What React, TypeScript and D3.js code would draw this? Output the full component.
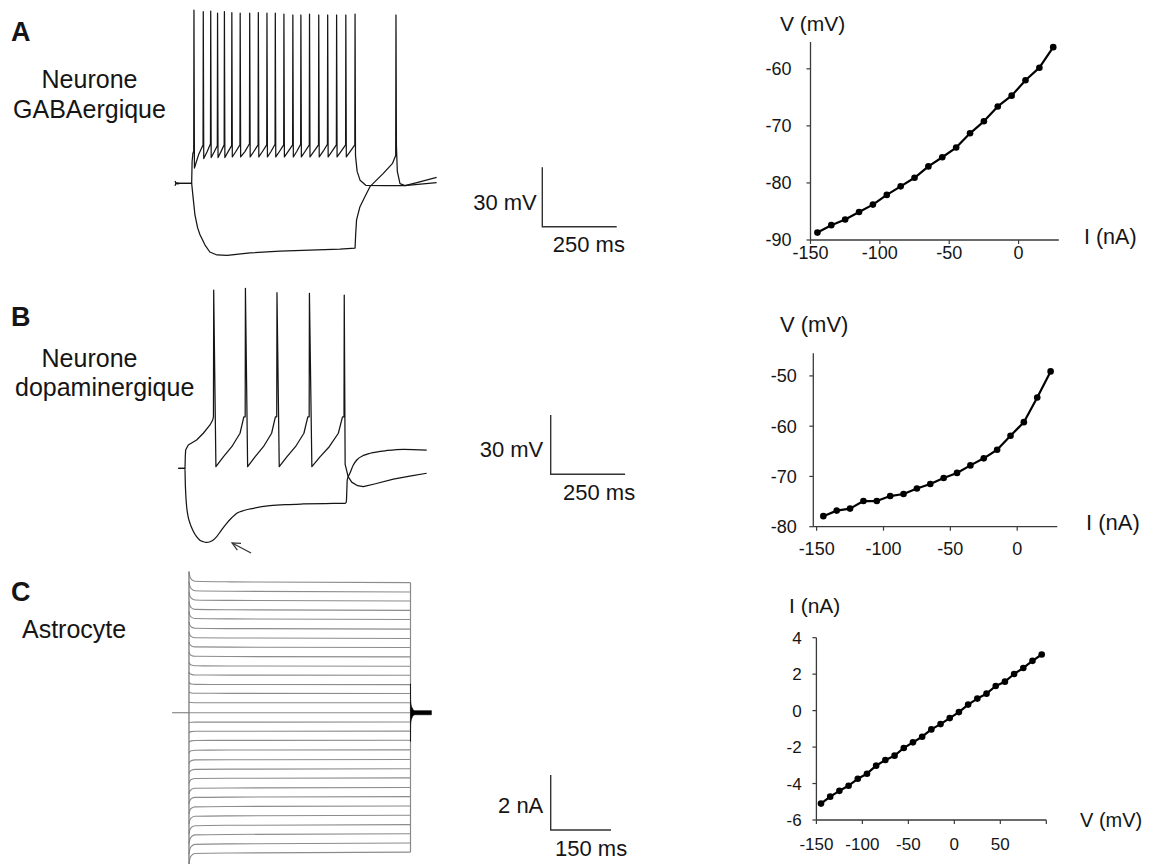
import React from "react";
import * as d3 from "d3";

const FONT = "'Liberation Sans', Arial, Helvetica, sans-serif";
const INK = "#151515";
type Pt = [number, number];

// ================= Panel A : GABAergic neuron (ms, mV) =================
const traceA_pre: Pt[] = [[-56, -62.8], [-52, -64.2], [-47, -63.8], [-40, -64], [0, -64], [1.5, -53], [4, -49], [5.5, -48.5]];
const spikeTimesA = [7.7, 39, 64, 87, 110, 135, 163, 195, 224, 253, 281, 310, 340, 367, 396, 427, 457, 487, 518, 549];
const spikePeaksA = [23.5, 22.7, 23.0, 21.9, 22.7, 22.2, 21.9, 21.9, 22.2, 21.9, 21.9, 21.5, 21.0, 21.0, 21.5, 21.0, 21.0, 21.0, 21.0, 21.5];
const spikeThrA = [-47.5, -44.6, -44.0, -45.0, -44.6, -45.0, -44.6, -44.0, -44.6, -44.6, -44.3, -44.6, -44.6, -44.3, -44.6, -44.6, -44.3, -44.6, -44.6, -44.6];
const spikeAhpA = [-56.3, -51.5, -51.0, -51.0, -51.0, -50.7, -50.7, -50.7, -50.7, -50.7, -50.7, -50.7, -50.7, -50.7, -50.7, -50.7, -50.7, -50.7, -50.7];
const spikeMidA = [-49.5, -48.2, -48.2, -48.0, -48.0, -47.8, -48.0, -47.8, -47.8, -47.8, -47.8, -47.8, -47.8, -47.8, -47.8, -47.8, -47.8, -47.8, -47.8];
const traceA_post: Pt[] = [[550.5, -50], [556, -58], [566, -62.5], [585, -65], [650, -65.2], [716, -65.2], [760, -64.5], [823, -63.6]];
const traceA_hyper: Pt[] = [
  [-56, -65.2], [-52, -63.8], [-47, -64.3], [-40, -64], [0, -64], [4, -70], [11, -80], [20, -86.5], [28, -90], [45, -95.2],
  [61, -98.7], [85, -100.2], [119, -100.4], [196, -99.2], [297, -98.2], [397, -97.7], [498, -97.2], [549, -96.7],
  [551, -90], [554, -82.5], [565.5, -75.8], [582, -70.8], [599, -65.7], [644, -59], [675, -53.9], [685.5, -50],
  [686.5, 21], [688, -45], [691, -58], [700, -64.2], [716.7, -65.2], [760, -63.5], [823, -61],
];

// ================= Panel B : dopaminergic neuron (ms, mV) =================
const traceB_pre: Pt[] = [[-22.5, -60], [0, -60], [1, -54], [2.2, -50.8], [11, -48.2], [39, -45.7], [61.5, -42.3], [84, -38.1], [93, -35.6]];
const spikeTimesB = [96.4, 203, 309, 418, 535];
const spikePeaksB = [30, 30.9, 28.7, 28.4, 27.5];
const isiFracB = [0.07, 0.31, 0.57, 0.83, 0.95];
const isiVoltB = [-59.2, -54.1, -49.1, -42.3, -34];
const traceB_post: Pt[] = [[538, -58], [543, -61], [548, -64.2], [560, -67], [580, -68.8], [599, -69.3], [640, -67.8], [700, -65.5], [760, -63.8], [812, -62.5]];
const traceB_hyper: Pt[] = [
  [-22.5, -60], [0, -60], [0.6, -65], [2.5, -73], [5.6, -79.4], [10, -84], [16.8, -87.8], [27, -91.5], [39, -94.5], [50, -96.3],
  [61.5, -97.1], [72, -97.4], [84, -97.1], [95, -96.2], [106.5, -94.5], [122, -91.3], [140, -87.8], [157, -85], [174, -82.7],
  [200, -81.2], [229.5, -80.2], [285.6, -78.9], [340, -78.3], [397.5, -78], [470, -77.8], [537.6, -77.7], [542, -77],
  [543.5, -72], [545, -65.9], [549, -64], [554, -62.5], [565, -58.5], [577, -55.8], [600, -53.5], [622, -52.4], [680, -51],
  [734, -50.4], [812, -50.8],
];
const arrowB: Pt[] = [[222, -102.8], [158, -97.7]];

// ================= Panel C : astrocyte (ms, nA) =================
const stepLevelsC = [4.73, 4.39, 4.06, 3.72, 3.39, 3.04, 2.70, 2.37, 2.03, 1.69, 1.36, 1.02, 0.70, 0.36, 0,
  -0.34, -0.67, -1.00, -1.35, -1.70, -2.04, -2.37, -2.72, -3.05, -3.39, -3.73, -4.07, -4.40, -4.74, -5.07];
const transientTimeC = [0, 2, 6, 15, 100, 551];
const transientRelC = [1.085, 1.05, 1.025, 1.01, 1.006, 1.0];
const tailTimeC = [551, 551.3, 552.5, 555, 558, 562, 603];
const tailAmpC = [1.05, 0.45, 0.3, 0.18, 0.1, 0.075, 0.075];

// ================= I-V curves =================
const ivA_I = [-145, -135, -125, -115, -105, -95, -85, -75, -65, -55, -45, -35, -25, -15, -5, 5, 15, 25];
const ivA_V = [-88.7, -87.4, -86.4, -85.1, -83.8, -82.1, -80.6, -79.1, -77.1, -75.5, -73.8, -71.3, -69.2, -66.6, -64.7, -62.0, -59.8, -56.2];
const ivB_I = [-145, -135, -125, -115, -105, -95, -85, -75, -65, -55, -45, -35, -25, -15, -5, 5, 15, 25];
const ivB_V = [-77.9, -76.8, -76.4, -74.9, -74.9, -73.9, -73.5, -72.4, -71.5, -70.3, -69.3, -67.8, -66.4, -64.7, -61.9, -59.2, -54.3, -49.1];
const ivC_V = [-145, -135, -125, -115, -105, -95, -85, -75, -65, -55, -45, -35, -25, -15, -5, 5, 15, 25, 35, 45, 55, 65, 75, 85, 95];
const ivC_I = [-5.1, -4.72, -4.4, -4.12, -3.74, -3.46, -3.02, -2.71, -2.47, -2.05, -1.74, -1.43, -1.03, -0.74, -0.41, -0.08, 0.33, 0.66, 0.93, 1.35, 1.59, 2.01, 2.34, 2.73, 3.08];

const ivTicksA_x = [-150, -100, -50, 0];
const ivTicksA_y = [-90, -80, -70, -60];
const ivTicksB_x = [-150, -100, -50, 0];
const ivTicksB_y = [-80, -70, -60, -50];
const ivTicksC_x = [-150, -100, -50, 0, 50];
const ivTickMarksC_x = [-150, -100, -50, 0, 50, 100];
const ivTicksC_y = [-6, -4, -2, 0, 2, 4];

// ---------- scales for the recordings ----------
const xA = d3.scaleLinear().domain([-56, 825]).range([175, 437.2]);
const yA = d3.scaleLinear().domain([-64, -34]).range([183.3, 123.9]);
const xB = d3.scaleLinear().domain([-22.5, 812]).range([178.3, 426.7]);
const yB = d3.scaleLinear().domain([-60, -30]).range([468.3, 408.9]);
const xC = d3.scaleLinear().domain([-42, 603]).range([172.1, 431.4]);
const yC = d3.scaleLinear().domain([0, 2]).range([712.7, 657.7]);

function trainA(): Pt[] {
  const pts: Pt[] = [...traceA_pre];
  spikeTimesA.forEach((t, i) => {
    pts.push([t - 0.8, spikeThrA[i]]);
    pts.push([t, spikePeaksA[i]]);
    if (i < spikeTimesA.length - 1) {
      const next = spikeTimesA[i + 1];
      pts.push([t + 1.6, spikeAhpA[i]]);
      pts.push([t + (next - t) * 0.5, spikeMidA[i]]);
    }
  });
  return pts.concat(traceA_post);
}

function trainB(): Pt[] {
  const pts: Pt[] = [...traceB_pre];
  spikeTimesB.forEach((t, i) => {
    pts.push([t - 0.8, -34]);
    pts.push([t, spikePeaksB[i]]);
    if (i < spikeTimesB.length - 1) {
      const isi = spikeTimesB[i + 1] - t;
      isiFracB.forEach((f, k) => pts.push([t + f * isi, isiVoltB[k]]));
    }
  });
  return pts.concat(traceB_post);
}

type IVCfg = {
  xs: number[]; ys: number[];
  xDomain: [number, number]; xRange: [number, number];
  yDomain: [number, number]; yRange: [number, number];
  xTicks: number[]; xTickMarks: number[]; yTicks: number[];
  yLabelGap: number; xLabelBaseline: number; fontSize: number;
  yTitle: { text: string; x: number; y: number; size: number };
  xTitle: { text: string; x: number; y: number; size: number };
};

const ivCfgA: IVCfg = {
  xs: ivA_I, ys: ivA_V, xDomain: [-150, 29], xRange: [810.5, 1058.8], yDomain: [-90, -55.3], yRange: [240, 42],
  xTicks: ivTicksA_x, xTickMarks: ivTicksA_x, yTicks: ivTicksA_y, yLabelGap: 15, xLabelBaseline: 259, fontSize: 18,
  yTitle: { text: "V (mV)", x: 780, y: 31, size: 21 }, xTitle: { text: "I (nA)", x: 1084, y: 244, size: 21.5 },
};
const ivCfgB: IVCfg = {
  xs: ivB_I, ys: ivB_V, xDomain: [-152.5, 30], xRange: [813.3, 1057.3], yDomain: [-80, -45.5], yRange: [526.7, 353.3],
  xTicks: ivTicksB_x, xTickMarks: ivTicksB_x, yTicks: ivTicksB_y, yLabelGap: 12.6, xLabelBaseline: 555, fontSize: 18,
  yTitle: { text: "V (mV)", x: 780, y: 332, size: 22 }, xTitle: { text: "I (nA)", x: 1086, y: 530, size: 22 },
};
const ivCfgC: IVCfg = {
  xs: ivC_V, ys: ivC_I, xDomain: [-150, 100], xRange: [816.4, 1046.3], yDomain: [-6, 4], yRange: [820, 637.7],
  xTicks: ivTicksC_x, xTickMarks: ivTickMarksC_x, yTicks: ivTicksC_y, yLabelGap: 10.7, xLabelBaseline: 850, fontSize: 17,
  yTitle: { text: "I (nA)", x: 789, y: 613, size: 21 }, xTitle: { text: "V (mV)", x: 1080, y: 827, size: 20 },
};

function IVPlot({ cfg }: { cfg: IVCfg }) {
  const x = d3.scaleLinear().domain(cfg.xDomain).range(cfg.xRange);
  const y = d3.scaleLinear().domain(cfg.yDomain).range(cfg.yRange);
  const pts = cfg.xs.map((v, i) => [v, cfg.ys[i]] as Pt);
  const line = d3.line<Pt>().x((d) => x(d[0])).y((d) => y(d[1]));
  const x0 = cfg.xRange[0];
  const y0 = cfg.yRange[0];
  const axis = "#3a3a3a";
  return (
    <g>
      <line x1={x0} x2={x0} y1={cfg.yRange[0]} y2={cfg.yRange[1]} stroke={axis} strokeWidth={1.3} />
      <line x1={x0} x2={cfg.xRange[1]} y1={y0} y2={y0} stroke={axis} strokeWidth={1.3} />
      {cfg.yTicks.map((t) => (
        <g key={"y" + t}>
          <line x1={x0 - 4} x2={x0} y1={y(t)} y2={y(t)} stroke={axis} strokeWidth={1.2} />
          <text x={x0 - 4 - cfg.yLabelGap} y={y(t)} dy="0.36em" textAnchor="end" fontSize={cfg.fontSize} fill={INK}>
            {t}
          </text>
        </g>
      ))}
      {cfg.xTickMarks.map((t) => (
        <line key={"xm" + t} x1={x(t)} x2={x(t)} y1={y0} y2={y0 + 4} stroke={axis} strokeWidth={1.2} />
      ))}
      {cfg.xTicks.map((t) => (
        <text key={"x" + t} x={x(t)} y={cfg.xLabelBaseline} textAnchor="middle" fontSize={cfg.fontSize} fill={INK}>
          {t}
        </text>
      ))}
      <path d={line(pts) || ""} fill="none" stroke="#000" strokeWidth={2.2} strokeLinejoin="round" />
      {pts.map((d, i) => (
        <circle key={i} cx={x(d[0])} cy={y(d[1])} r={3.3} fill="#000" />
      ))}
      <text x={cfg.yTitle.x} y={cfg.yTitle.y} fontSize={cfg.yTitle.size} fill={INK}>{cfg.yTitle.text}</text>
      <text x={cfg.xTitle.x} y={cfg.xTitle.y} fontSize={cfg.xTitle.size} fill={INK}>{cfg.xTitle.text}</text>
    </g>
  );
}

function ScaleBar({ x0, y0, w, h, vLabel, hLabel, vLabelDx, vLabelDy, hLabelDx, hLabelDy }: any) {
  return (
    <g>
      <path d={`M${x0},${y0 - h}V${y0}H${x0 + w}`} fill="none" stroke="#333" strokeWidth={1.4} />
      <text x={x0 + vLabelDx} y={y0 + vLabelDy} textAnchor="end" fontSize={22} fill={INK}>{vLabel}</text>
      <text x={x0 + hLabelDx} y={y0 + hLabelDy} fontSize={22} fill={INK}>{hLabel}</text>
    </g>
  );
}

export default function App() {
  const lineA = d3.line<Pt>().x((d) => xA(d[0])).y((d) => yA(d[1]));
  const lineB = d3.line<Pt>().x((d) => xB(d[0])).y((d) => yB(d[1]));
  const lineBs = d3.line<Pt>().x((d) => xB(d[0])).y((d) => yB(d[1])).curve(d3.curveMonotoneX);
  const lineC = d3.line<Pt>().x((d) => xC(d[0])).y((d) => yC(d[1])).curve(d3.curveMonotoneX);
  const tailArea = d3
    .area<number>()
    .x((_, i) => xC(tailTimeC[i]))
    .y0((d) => yC(-d))
    .y1((d) => yC(d))
    .curve(d3.curveMonotoneX);

  const maxL = d3.max(stepLevelsC) as number;
  const minL = d3.min(stepLevelsC) as number;

  const traceStyle = { fill: "none", stroke: INK, strokeWidth: 1.25, strokeLinejoin: "round" as const };

  // arrow geometry in panel B
  const ax1 = xB(arrowB[0][0]), ay1 = yB(arrowB[0][1]);
  const ax2 = xB(arrowB[1][0]), ay2 = yB(arrowB[1][1]);
  const ang = Math.atan2(ay1 - ay2, ax1 - ax2);
  const hl = 9;
  const h1 = [ax2 + hl * Math.cos(ang + 0.45), ay2 + hl * Math.sin(ang + 0.45)];
  const h2 = [ax2 + hl * Math.cos(ang - 0.45), ay2 + hl * Math.sin(ang - 0.45)];

  return (
    <svg
      width={1149}
      height={864}
      viewBox="0 0 1149 864"
      style={{ position: "absolute", left: 0, top: 0, background: "#fff", fontFamily: FONT }}
    >
      <rect x={0} y={0} width={1149} height={864} fill="#fff" />

      {/* ---------- left labels ---------- */}
      <text x={11} y={41} fontSize={27} fontWeight="bold" fill={INK}>A</text>
      <text x={89.5} y={88} fontSize={25} textAnchor="middle" fill={INK}>Neurone</text>
      <text x={89.5} y={118.3} fontSize={25} textAnchor="middle" fill={INK}>GABAergique</text>

      <text x={11} y={326} fontSize={27} fontWeight="bold" fill={INK}>B</text>
      <text x={89.5} y={367} fontSize={25} textAnchor="middle" fill={INK}>Neurone</text>
      <text x={15} y={396} fontSize={25} fill={INK}>dopaminergique</text>

      <text x={11} y={601} fontSize={27} fontWeight="bold" fill={INK}>C</text>
      <text x={22} y={638} fontSize={25} fill={INK}>Astrocyte</text>

      {/* ---------- Panel A traces ---------- */}
      <path d={lineA(trainA()) || ""} {...traceStyle} />
      <path d={lineA(traceA_hyper) || ""} {...traceStyle} />
      <ScaleBar
        x0={542.3} y0={226.7}
        w={xA(250) - xA(0)} h={yA(-64) - yA(-34)}
        vLabel="30 mV" hLabel="250 ms" vLabelDx={-5.5} vLabelDy={-17} hLabelDx={10.5} hLabelDy={25}
      />

      {/* ---------- Panel B traces ---------- */}
      <path d={lineB(trainB()) || ""} {...traceStyle} />
      <path d={lineBs(traceB_hyper) || ""} {...traceStyle} />
      <line x1={ax1} y1={ay1} x2={ax2} y2={ay2} stroke="#333" strokeWidth={1.2} />
      <path d={`M${h1[0]},${h1[1]}L${ax2},${ay2}L${h2[0]},${h2[1]}`} fill="none" stroke="#333" strokeWidth={1.2} />
      <ScaleBar
        x0={550.7} y0={474.3}
        w={xB(250) - xB(0)} h={yB(-60) - yB(-30)}
        vLabel="30 mV" hLabel="250 ms" vLabelDx={-7.4} vLabelDy={-17.6} hLabelDx={12.3} hLabelDy={25.7}
      />

      {/* ---------- Panel C traces ---------- */}
      <line x1={xC(-42)} x2={xC(0)} y1={yC(0)} y2={yC(0)} stroke="#8a8a8a" strokeWidth={1.2} />
      {stepLevelsC.map((L, i) => (
        <path
          key={i}
          d={lineC(transientTimeC.map((t, k) => [t, L * transientRelC[k]] as Pt)) || ""}
          fill="none"
          stroke="#8c8c8c"
          strokeWidth={1.1}
        />
      ))}
      <line x1={xC(0)} x2={xC(0)} y1={yC(maxL * transientRelC[0])} y2={yC(minL * transientRelC[0])} stroke="#7a7a7a" strokeWidth={1.3} />
      <line x1={xC(551)} x2={xC(551)} y1={yC(maxL)} y2={yC(minL)} stroke="#8a8a8a" strokeWidth={1.2} />
      <path d={tailArea(tailAmpC) || ""} fill="#000" stroke="#000" strokeWidth={0.6} />
      <ScaleBar
        x0={550.7} y0={830}
        w={xC(150) - xC(0)} h={yC(0) - yC(2)}
        vLabel="2 nA" hLabel="150 ms" vLabelDx={-7.4} vLabelDy={-17.3} hLabelDx={4.3} hLabelDy={26}
      />

      {/* ---------- I-V plots ---------- */}
      <IVPlot cfg={ivCfgA} />
      <IVPlot cfg={ivCfgB} />
      <IVPlot cfg={ivCfgC} />
    </svg>
  );
}
